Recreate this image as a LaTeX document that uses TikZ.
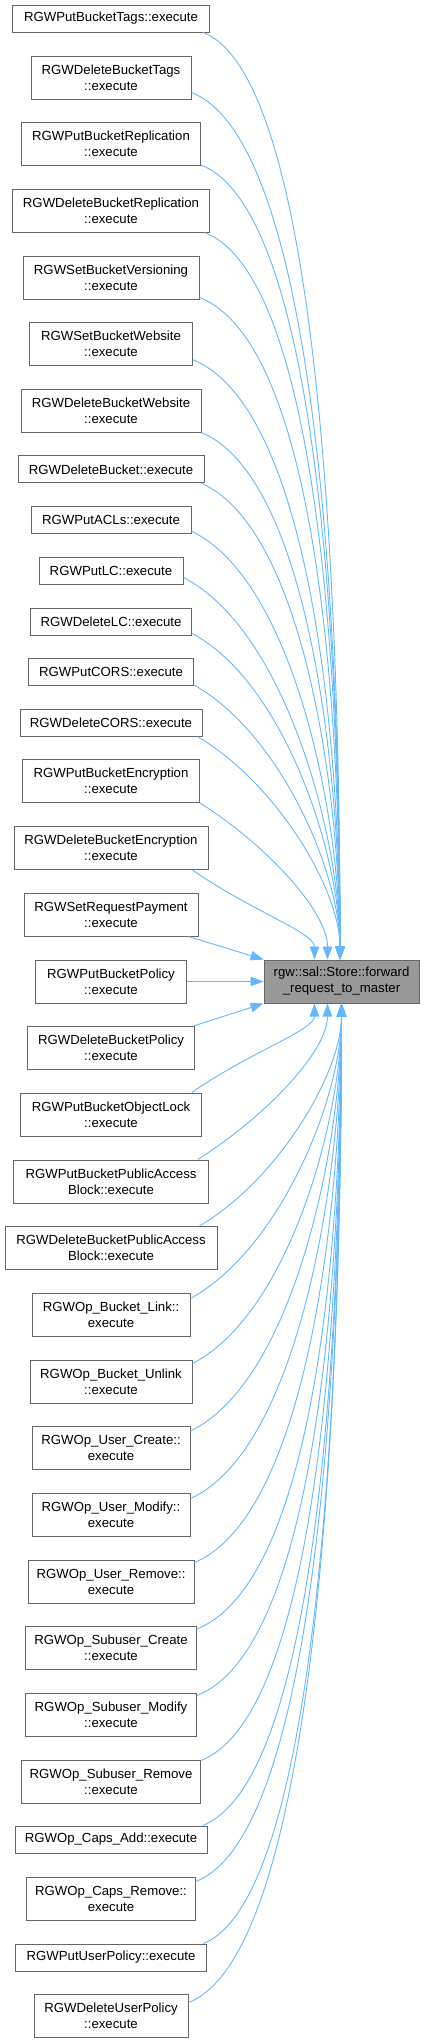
\documentclass[tikz,border=0pt]{standalone}
\usepackage{fontspec}
\setmainfont{Liberation Sans}
\usetikzlibrary{arrows.meta,calc}
\definecolor{edgec}{HTML}{63B8FF}
\definecolor{boxb}{HTML}{666666}
\definecolor{tgtf}{HTML}{999999}
\tikzset{
  fn/.style={draw=boxb, fill=white, line width=1pt, inner sep=0pt, align=center,
    font=\fontsize{13.2pt}{16pt}\selectfont, minimum height=43pt},
  fnone/.style={fn, minimum height=27pt},
  tgt/.style={fn, fill=tgtf},
  edge/.style={draw=edgec, line width=0.9pt, -{Triangle[length=13pt,width=9.5pt]}}
}
\newcommand\curv[2]{%
  \draw[edge] let \p1=(#1), \p2=(#2),
    \n1={abs(\y2-\y1)/(\x2-\x1)},
    \n2={min(0.85,0.4+0.1*\n1)},
    \n3={min(0.39,0.29+0.015*\n1)},
    \n4={(\y2-\y1)/abs(\y2-\y1)} in
    (\p1) .. controls ({\x1+\n2*(\x2-\x1)},{\y1+0.33*\n4*(\x2-\x1)})
      and ({\x2},{\y2-\n3*(\y2-\y1)}) .. (\p2);}
\begin{document}
\begin{tikzpicture}
\useasboundingbox (0,0) rectangle (424pt,-2043pt);
\node[fnone, minimum width=197.4pt] (n1) at (111pt,-18.5pt) {RGWPutBucketTags::execute};
\node[fn, minimum width=160pt] (n2) at (111pt,-77.5pt) {RGWDeleteBucketTags\\::execute};
\node[fn, minimum width=179pt] (n3) at (111pt,-144pt) {RGWPutBucketReplication\\::execute};
\node[fn, minimum width=196.3pt] (n4) at (111pt,-210.5pt) {RGWDeleteBucketReplication\\::execute};
\node[fn, minimum width=176pt] (n5) at (111pt,-277.5pt) {RGWSetBucketVersioning\\::execute};
\node[fn, minimum width=163pt] (n6) at (111pt,-343.8pt) {RGWSetBucketWebsite\\::execute};
\node[fn, minimum width=180pt] (n7) at (111pt,-410.5pt) {RGWDeleteBucketWebsite\\::execute};
\node[fnone, minimum width=186pt] (n8) at (111pt,-469.3pt) {RGWDeleteBucket::execute};
\node[fnone, minimum width=160pt] (n9) at (111pt,-520.2pt) {RGWPutACLs::execute};
\node[fnone, minimum width=144pt] (n10) at (111pt,-570.5pt) {RGWPutLC::execute};
\node[fnone, minimum width=161.4pt] (n11) at (111pt,-621.5pt) {RGWDeleteLC::execute};
\node[fnone, minimum width=165pt] (n12) at (111pt,-672pt) {RGWPutCORS::execute};
\node[fnone, minimum width=182pt] (n13) at (111pt,-722.5pt) {RGWDeleteCORS::execute};
\node[fn, minimum width=177pt] (n14) at (111pt,-781pt) {RGWPutBucketEncryption\\::execute};
\node[fn, minimum width=194pt] (n15) at (111pt,-848pt) {RGWDeleteBucketEncryption\\::execute};
\node[fn, minimum width=174pt] (n16) at (111pt,-914.5pt) {RGWSetRequestPayment\\::execute};
\node[fn, minimum width=150.3pt] (n17) at (111pt,-981.5pt) {RGWPutBucketPolicy\\::execute};
\node[tgt, minimum width=155pt] (T) at (341.5pt,-981.5pt) {rgw::sal::Store::forward\\\_request\_to\_master};
\node[fn, minimum width=167.7pt] (n18) at (111pt,-1048pt) {RGWDeleteBucketPolicy\\::execute};
\node[fn, minimum width=180.6pt] (n19) at (111pt,-1114.5pt) {RGWPutBucketObjectLock\\::execute};
\node[fn, minimum width=194.6pt] (n20) at (111pt,-1181.5pt) {RGWPutBucketPublicAccess\\Block::execute};
\node[fn, minimum width=212pt] (n21) at (111pt,-1248pt) {RGWDeleteBucketPublicAccess\\Block::execute};
\node[fn, minimum width=158pt] (n22) at (111pt,-1314.5pt) {RGWOp\_Bucket\_Link::\\execute};
\node[fn, minimum width=162pt] (n23) at (111pt,-1381.5pt) {RGWOp\_Bucket\_Unlink\\::execute};
\node[fn, minimum width=158pt] (n24) at (111pt,-1448pt) {RGWOp\_User\_Create::\\execute};
\node[fn, minimum width=158pt] (n25) at (111pt,-1514.5pt) {RGWOp\_User\_Modify::\\execute};
\node[fn, minimum width=166pt] (n26) at (111pt,-1581.5pt) {RGWOp\_User\_Remove::\\execute};
\node[fn, minimum width=170.6pt] (n27) at (111pt,-1648pt) {RGWOp\_Subuser\_Create\\::execute};
\node[fn, minimum width=170.6pt] (n28) at (111pt,-1714.5pt) {RGWOp\_Subuser\_Modify\\::execute};
\node[fn, minimum width=178.6pt] (n29) at (111pt,-1781.5pt) {RGWOp\_Subuser\_Remove\\::execute};
\node[fnone, minimum width=192pt] (n30) at (111pt,-1839.5pt) {RGWOp\_Caps\_Add::execute};
\node[fn, minimum width=168.6pt] (n31) at (111pt,-1898.5pt) {RGWOp\_Caps\_Remove::\\execute};
\node[fnone, minimum width=191.4pt] (n32) at (111pt,-1957.5pt) {RGWPutUserPolicy::execute};
\node[fn, minimum width=154pt] (n33) at (111pt,-2015.5pt) {RGWDeleteUserPolicy\\::execute};
% upper edges
\curv{[shift={(-7pt,0pt)}]n1.south east}{[xshift=-1.5pt]T.north}
\curv{[shift={(0pt,7pt)}]n2.south east}{[xshift=-1.5pt]T.north}
\curv{[shift={(0pt,1pt)}]n3.south east}{[xshift=-1.5pt]T.north}
\curv{[shift={(-5pt,0pt)}]n4.south east}{[xshift=-1.5pt]T.north}
\curv{[shift={(0pt,2pt)}]n5.south east}{[xshift=-1.5pt]T.north}
\curv{[shift={(0pt,6pt)}]n6.south east}{[xshift=-1.5pt]T.north}
\curv{[shift={(0pt,0pt)}]n7.south east}{[xshift=-1.5pt]T.north}
\curv{[shift={(-3pt,0pt)}]n8.south east}{[xshift=-1.5pt]T.north}
\curv{[shift={(0pt,3pt)}]n9.south east}{[xshift=-1.5pt]T.north}
\curv{[shift={(0pt,7pt)}]n10.south east}{[xshift=-1.5pt]T.north}
\curv{[shift={(0pt,2pt)}]n11.south east}{[xshift=-1.5pt]T.north}
\curv{[shift={(0pt,1pt)}]n12.south east}{[xshift=-1.5pt]T.north}
\curv{[shift={(-5pt,0pt)}]n13.south east}{[xshift=-1.5pt]T.north}
\curv{[shift={(0pt,0pt)}]n14.south east}{[xshift=-14pt]T.north}
\curv{[shift={(-16pt,0pt)}]n15.south east}{[xshift=-27pt]T.north}
\draw[edge] ([xshift=-10pt]n16.south east) -- (T.north west);
\draw[edge] (n17.east) -- (T.west);
\draw[edge] ([xshift=-2pt]n18.north east) -- (T.south west);
% lower edges
\curv{[shift={(-10pt,0pt)}]n19.north east}{[xshift=-27pt]T.south}
\curv{[shift={(-11pt,0pt)}]n20.north east}{[xshift=-14pt]T.south}
\curv{[shift={(-18pt,0pt)}]n21.north east}{T.south}
\curv{[shift={(0pt,-6pt)}]n22.north east}{T.south}
\curv{[shift={(0pt,-4pt)}]n23.north east}{T.south}
\curv{[shift={(0pt,-5pt)}]n24.north east}{T.south}
\curv{[shift={(0pt,-6pt)}]n25.north east}{T.south}
\curv{[shift={(0pt,-3pt)}]n26.north east}{T.south}
\curv{[shift={(0pt,-3pt)}]n27.north east}{T.south}
\curv{[shift={(0pt,-3pt)}]n28.north east}{T.south}
\curv{[shift={(0pt,-1pt)}]n29.north east}{T.south}
\curv{[shift={(-5pt,0pt)}]n30.north east}{T.south}
\curv{[shift={(0pt,-5pt)}]n31.north east}{T.south}
\curv{[shift={(-4pt,0pt)}]n32.north east}{T.south}
\curv{[shift={(0pt,-9pt)}]n33.north east}{T.south}
\end{tikzpicture}
\end{document}
